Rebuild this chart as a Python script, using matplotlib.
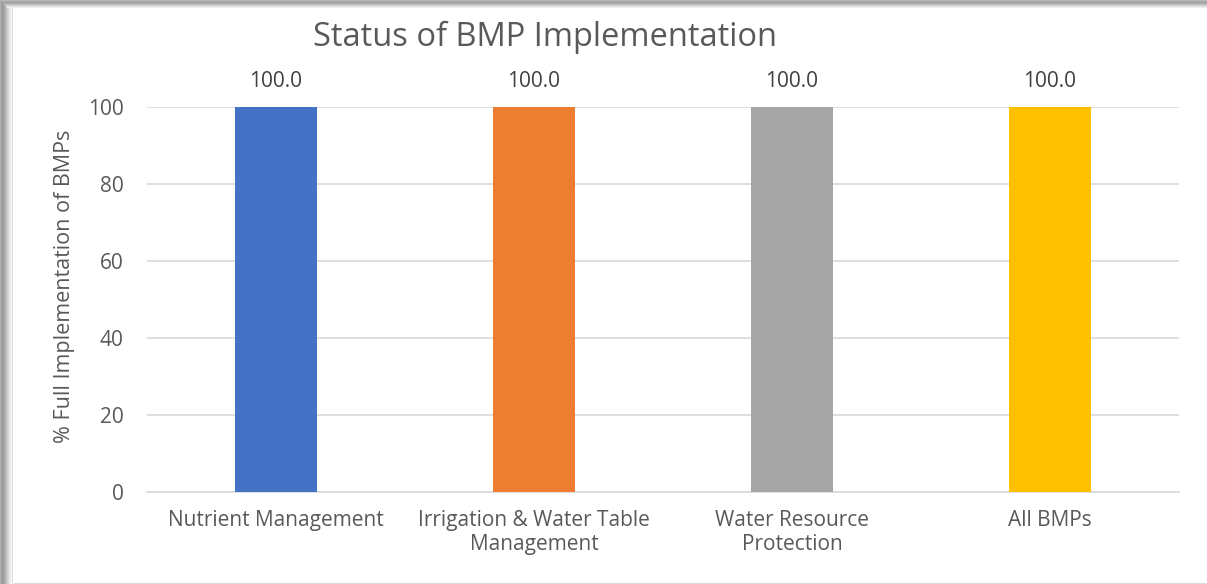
import matplotlib
matplotlib.use("Agg")
import matplotlib.pyplot as plt
from matplotlib.patches import Rectangle

categories = ["Nutrient Management", "Irrigation & Water Table\nManagement",
              "Water Resource\nProtection", "All BMPs"]
values = [100.0, 100.0, 100.0, 100.0]
colors = ["#4472C4", "#ED7D31", "#A5A5A5", "#FFC000"]
yticks = [0, 20, 40, 60, 80, 100]

plt.rcParams['font.family'] = ['Open Sans', 'DejaVu Sans']
txt = "#595959"

W, H = 1207, 584
fig = plt.figure(figsize=(W/100, H/100), dpi=100)
fig.patch.set_facecolor("white")

# shadow frame
for i, g in enumerate(["#b0b0b0", "#a0a0a0", "#989898", "#a0a0a0", "#a8a8a8", "#b4b4b4",
                       "#c0c0c0", "#cccccc", "#d8d8d8", "#e4e4e4", "#eeeeee", "#f4f4f4", "#dddddd"]):
    fig.patches.append(Rectangle((i/W, 0), 1/W, 1, transform=fig.transFigure,
                                 facecolor=g, edgecolor="none", zorder=0))
for i, g in enumerate(["#b8b8b8", "#aaaaaa", "#a4a4a4", "#acacac", "#bcbcbc", "#d0d0d0", "#e4e4e4", "#eeeeee"]):
    fig.patches.append(Rectangle((i/W, 1 - (i+1)/H), 1, 1/H, transform=fig.transFigure,
                                 facecolor=g, edgecolor="none", zorder=0))
fig.patches.append(Rectangle((14/W, 0), 1, 1/H, transform=fig.transFigure,
                             facecolor="#d9d9d9", edgecolor="none", zorder=0))

ax = fig.add_axes([147/W, 1 - 492/H, (1179-147)/W, (492-107)/H])
x = range(len(categories))
bars = ax.bar(x, values, width=0.314, color=colors, zorder=3)
ax.set_xlim(-0.5, len(categories) - 0.5)
ax.set_ylim(0, 100)
ax.set_yticks(yticks)
ax.yaxis.grid(True, color="#d9d9d9", linewidth=1.2, zorder=0)
for s in ["top", "right", "left"]:
    ax.spines[s].set_visible(False)
ax.spines["bottom"].set_color("#d9d9d9")
ax.spines["bottom"].set_linewidth(1.2)
ax.tick_params(axis="both", length=0, colors=txt, labelsize=15)
ax.tick_params(axis="y", pad=17)
ax.tick_params(axis="x", pad=13)
ax.set_xticks(list(x))
ax.set_xticklabels(categories, linespacing=1.2)
for b, v in zip(bars, values):
    ax.text(b.get_x() + b.get_width()/2, v + 4, f"{v:.1f}", ha="center", va="bottom",
            color="#404040", fontsize=15)
ax.set_ylabel("% Full Implementation of BMPs", color=txt, fontsize=15.5)
ax.yaxis.set_label_coords((65 - 147) / 1032, (492 - 286) / 385)
ax.yaxis.label.set_va("center")
fig.text(545/W, 1 - 37/H, "Status of BMP Implementation", ha="center", va="center",
         color=txt, fontsize=23.5)
fig.savefig("out.png", dpi=100, facecolor="white")
